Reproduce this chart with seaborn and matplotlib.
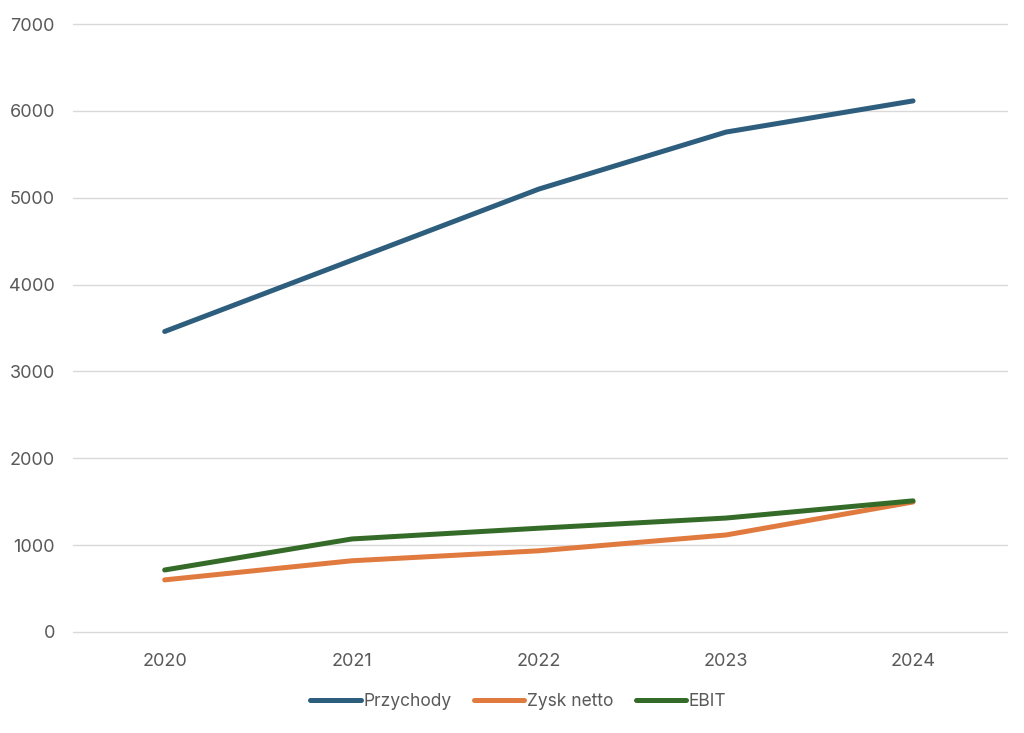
import matplotlib
matplotlib.use("Agg")
import matplotlib.pyplot as plt
import seaborn as sns
import pandas as pd

years = ["2020", "2021", "2022", "2023", "2024"]
przychody = [3460, 4280, 5100, 5756, 6115]
zysk_netto = [600, 820, 935, 1117, 1497]
ebit = [714, 1071, 1195, 1312, 1510]

series = ["Przychody", "Zysk netto", "EBIT"]
colors = ["#2E5E7E", "#E07A3F", "#356B28"]

df = pd.DataFrame({"Rok": years * 3,
                   "Wartosc": przychody + zysk_netto + ebit,
                   "Seria": [s for s in series for _ in years]})

sns.set_theme(style="white")
plt.rcParams["font.family"] = ["Inter", "DejaVu Sans"]

fig = plt.figure(figsize=(10.24, 7.33), dpi=100)
ax = fig.add_axes([0.0713, 0.1378, 0.9117, 0.8294])

sns.lineplot(data=df, x="Rok", y="Wartosc", hue="Seria", hue_order=series,
             palette=colors, linewidth=3.6, ax=ax, sort=False,
             solid_capstyle="round")

ax.set_ylim(0, 7000)
ax.set_xlim(-0.49, 4.5)
ax.set_yticks(range(0, 7001, 1000))
ax.grid(axis="y", color="#D9D9D9", linewidth=1)
for gl in ax.get_ygridlines():
    gl.set_clip_on(False)
ax.set_axisbelow(True)
for s in ax.spines.values():
    s.set_visible(False)
ax.set_xlabel("")
ax.set_ylabel("")
ax.tick_params(axis="both", length=0, labelsize=13, colors="#595959")
ax.tick_params(axis="y", pad=13)
ax.tick_params(axis="x", pad=15)

leg = ax.legend(loc="center", bbox_to_anchor=(0.477, -0.115), ncol=3, frameon=False,
                fontsize=12.5, handlelength=2.9, handletextpad=0.15, columnspacing=1.3)
for t in leg.get_texts():
    t.set_color("#595959")
for h in leg.get_lines():
    h.set_linewidth(3.6)
    h.set_solid_capstyle("round")

fig.savefig("out.png", dpi=100)
